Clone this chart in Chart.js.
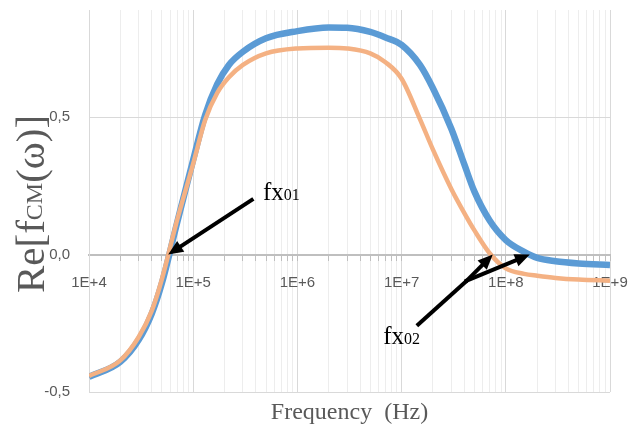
<!DOCTYPE html>
<html>
<head>
<meta charset="utf-8">
<script src="https://cdn.jsdelivr.net/npm/chart.js@4.4.1/dist/chart.umd.min.js"></script>
<style>
  html, body { margin: 0; padding: 0; background: #fff; }
</style>
</head>
<body>
<canvas id="chart" width="629" height="426"></canvas>
<script>
// frequency (Hz) and Re[fCM]
const frequencies = [1e4, 2e4, 3e4, 4e4, 5e4, 7e4, 1e5, 1.3e5, 1.7e5, 2.2e5, 3e5, 5e5, 1e6, 2e6, 3e6,
                     5e6, 7e6, 1e7, 1.5e7, 2e7, 3e7, 4e7, 5e7, 7e7, 1e8, 1.5e8, 2e8, 3e8, 5e8, 1e9];
const blueValues = [-0.445, -0.39, -0.31, -0.215, -0.105, 0.115, 0.345, 0.507, 0.62, 0.69, 0.738, 0.787, 0.813, 0.826, 0.825,
                    0.81, 0.79, 0.763, 0.69, 0.605, 0.458, 0.328, 0.229, 0.124, 0.053, 0.01, -0.012, -0.024, -0.032, -0.038];
const orangeValues = [-0.442, -0.385, -0.30, -0.205, -0.09, 0.125, 0.331, 0.489, 0.588, 0.645, 0.69, 0.732, 0.75, 0.753, 0.75,
                      0.732, 0.70, 0.64, 0.493, 0.382, 0.239, 0.151, 0.088, 0.005, -0.05, -0.07, -0.077, -0.085, -0.091, -0.095];

const xDecades = [4, 5, 6, 7, 8, 9];
const xTickLabels = ['1E+4', '1E+5', '1E+6', '1E+7', '1E+8', '1E+9'];
const yTickValues = [-0.5, 0, 0.5];
const yTickLabels = ['-0,5', '0,0', '0,5'];

const xTitle = 'Frequency  (Hz)';
const yTitleParts = ['Re[f', 'CM', '(\u03c9)]'];

// arrows pointing at the two crossover frequencies
const crossovers = [
  { name: 'fx', sub: '01', text: [4.68e5, 0.197], tail: [3.78e5, 0.203], joint: null, tips: [[5.75e4, 0]] },
  { name: 'fx', sub: '02', text: [6.65e6, -0.326], tail: [1.40e7, -0.259], joint: [4.22e7, -0.095], tips: [[7.5e7, 0], [1.7e8, 0]] }
];

const textGray = '#595959';

function isDecade(v) {
  const e = Math.round(Math.log10(v));
  return Math.abs(v - Math.pow(10, e)) < v * 1e-6;
}

const xGridValues = [];
xDecades.forEach((d, i) => {
  const steps = i < xDecades.length - 1 ? 9 : 1;
  for (let m = 1; m <= steps; m++) xGridValues.push(m * Math.pow(10, d));
});

function toPoints(values) {
  return frequencies.map((f, i) => ({ x: f, y: values[i] }));
}

function noPadding(scale) {
  scale.paddingLeft = 0;
  scale.paddingRight = 0;
  scale.paddingTop = 0;
  scale.paddingBottom = 0;
}

function drawArrowHead(ctx, x0, y0, x1, y1) {
  const ang = Math.atan2(y1 - y0, x1 - x0);
  const len = 15, half = 6.5;
  ctx.beginPath();
  ctx.moveTo(x1, y1);
  ctx.lineTo(x1 - len * Math.cos(ang) + half * Math.sin(ang), y1 - len * Math.sin(ang) - half * Math.cos(ang));
  ctx.lineTo(x1 - len * Math.cos(ang) - half * Math.sin(ang), y1 - len * Math.sin(ang) + half * Math.cos(ang));
  ctx.closePath();
  ctx.fill();
}

const extrasPlugin = {
  id: 'extras',
  afterDraw(chart) {
    const ctx = chart.ctx;
    const xs = chart.scales.x, ys = chart.scales.y;
    const area = chart.chartArea;
    const px = p => [xs.getPixelForValue(p[0]), ys.getPixelForValue(p[1])];

    ctx.save();
    // arrows + labels
    ctx.strokeStyle = '#000';
    ctx.fillStyle = '#000';
    ctx.lineWidth = 4;
    ctx.lineCap = 'butt';
    crossovers.forEach(c => {
      const tail = px(c.tail);
      const start = c.joint ? px(c.joint) : tail;
      if (c.joint) {
        ctx.beginPath();
        ctx.moveTo(tail[0], tail[1]);
        ctx.lineTo(start[0], start[1]);
        ctx.stroke();
      }
      c.tips.forEach(t => {
        const tip = px(t);
        const ang = Math.atan2(tip[1] - start[1], tip[0] - start[0]);
        ctx.beginPath();
        ctx.moveTo(c.joint ? start[0] - Math.cos(ang) * 2 : start[0], c.joint ? start[1] - Math.sin(ang) * 2 : start[1]);
        ctx.lineTo(tip[0] - Math.cos(ang) * 10, tip[1] - Math.sin(ang) * 10);
        ctx.stroke();
        drawArrowHead(ctx, start[0], start[1], tip[0], tip[1]);
      });
      const tp = px(c.text);
      ctx.textBaseline = 'alphabetic';
      ctx.textAlign = 'left';
      ctx.font = '25px "Liberation Serif"';
      ctx.fillText(c.name, tp[0], tp[1]);
      const w = ctx.measureText(c.name).width;
      ctx.font = '16px "Liberation Serif"';
      ctx.fillText(c.sub, tp[0] + w, tp[1]);
    });

    // axis titles
    ctx.fillStyle = textGray;
    ctx.font = '24px "Liberation Serif"';
    ctx.textAlign = 'center';
    ctx.fillText(xTitle, (area.left + area.right) / 2, 419);

    ctx.translate(44, 293);
    ctx.rotate(-Math.PI / 2);
    ctx.textAlign = 'left';
    let x = 0;
    ctx.font = '41px "Liberation Serif"';
    ctx.fillText(yTitleParts[0], x, 0);
    x += ctx.measureText(yTitleParts[0]).width;
    ctx.font = '24px "Liberation Serif"';
    ctx.fillText(yTitleParts[1], x, -2);
    x += ctx.measureText(yTitleParts[1]).width;
    ctx.font = '41px "Liberation Serif"';
    ctx.fillText(yTitleParts[2], x, 0);
    ctx.restore();
  }
};

new Chart(document.getElementById('chart').getContext('2d'), {
  type: 'line',
  data: {
    datasets: [
      {
        label: 'orange',
        data: toPoints(orangeValues),
        borderColor: '#F4B183',
        borderWidth: 4.5,
        pointRadius: 0,
        cubicInterpolationMode: 'monotone',
        order: 0
      },
      {
        label: 'blue',
        data: toPoints(blueValues),
        borderColor: '#5B9BD5',
        borderWidth: 6.5,
        pointRadius: 0,
        cubicInterpolationMode: 'monotone',
        order: 1
      }
    ]
  },
  options: {
    responsive: false,
    animation: false,
    layout: { padding: { top: 10, right: 19, bottom: 34, left: 0 } },
    plugins: { legend: { display: false }, tooltip: { enabled: false } },
    scales: {
      x: {
        type: 'logarithmic',
        position: { y: 0 },
        min: 1e4,
        max: 1e9,
        afterBuildTicks: scale => {
          scale.ticks = xGridValues.map(v => ({ value: v, major: isDecade(v) }));
        },
        afterFit: noPadding,
        grid: {
          color: ctx => (ctx.tick && isDecade(ctx.tick.value) ? '#d9d9d9' : '#ededed'),
          tickColor: '#bfbfbf',
          tickLength: 5,
          lineWidth: 1
        },
        border: { color: '#bfbfbf', width: 2 },
        ticks: {
          autoSkip: false,
          maxRotation: 0,
          padding: 14,
          color: textGray,
          font: { family: '"Liberation Sans"', size: 15 },
          callback: value => {
            if (!isDecade(value)) return '';
            const idx = xDecades.indexOf(Math.round(Math.log10(value)));
            return idx >= 0 ? xTickLabels[idx] : '';
          }
        }
      },
      y: {
        type: 'linear',
        min: -0.5,
        max: 0.89,
        afterBuildTicks: scale => {
          scale.ticks = yTickValues.map(v => ({ value: v }));
        },
        afterFit: scale => { noPadding(scale); scale.width = 89; },
        grid: { color: '#d9d9d9', drawTicks: false },
        border: { color: '#d9d9d9', width: 1 },
        ticks: {
          padding: 19,
          color: textGray,
          font: { family: '"Liberation Sans"', size: 15 },
          callback: (value, i) => yTickLabels[yTickValues.indexOf(value)]
        }
      }
    }
  },
  plugins: [extrasPlugin]
});
</script>
</body>
</html>
